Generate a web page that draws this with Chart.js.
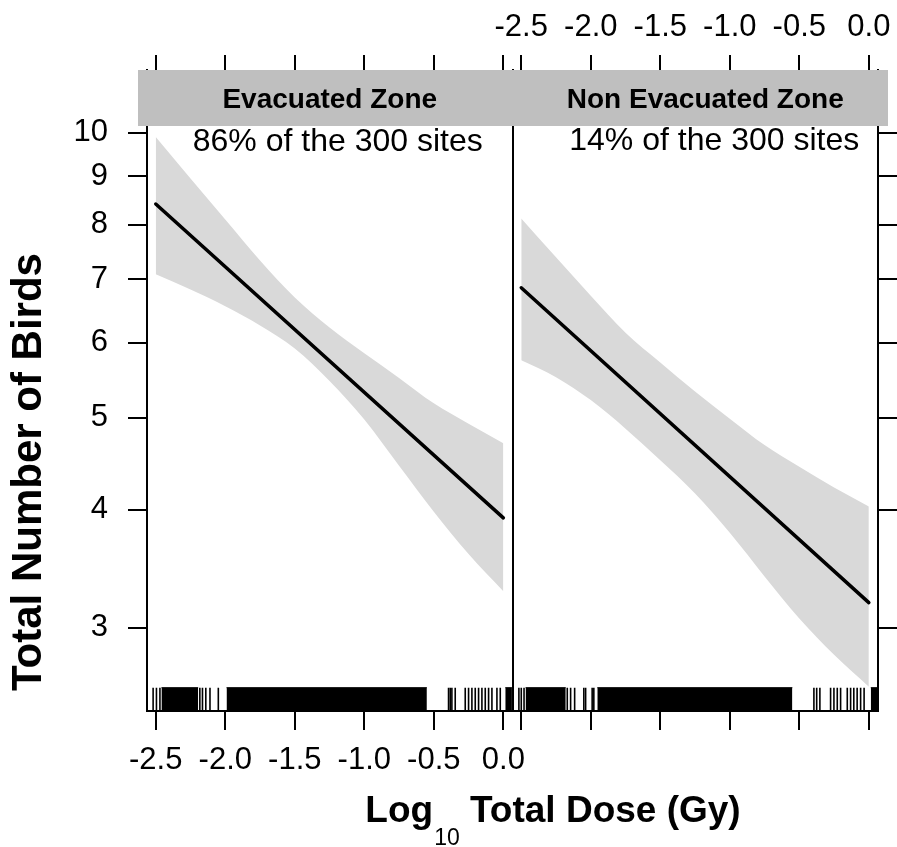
<!DOCTYPE html>
<html><head><meta charset="utf-8">
<script src="https://cdn.jsdelivr.net/npm/chart.js@4.4.1/dist/chart.umd.min.js"></script>
<style>html,body{margin:0;padding:0;background:#fff;}canvas{display:block;}</style>
</head><body>
<canvas id="c" width="897" height="847"></canvas>
<script>
// ---------- data ----------
const panels = ['Evacuated Zone', 'Non Evacuated Zone'];
const panelNotes = ['86% of the 300 sites', '14% of the 300 sites'];
const yTitle = 'Total Number of Birds';
const xTitleParts = ['Log', '10', 'Total Dose (Gy)'];
const xTicks = [-2.5, -2.0, -1.5, -1.0, -0.5, 0.0];
const xTickLabels = ['-2.5', '-2.0', '-1.5', '-1.0', '-0.5', '0.0'];
const yTicks = [3, 4, 5, 6, 7, 8, 9, 10];
const yTickLabels = ['3', '4', '5', '6', '7', '8', '9', '10'];

const doseGrid = [-2.5, -2.25, -2.0, -1.75, -1.5, -1.25, -1.0, -0.75, -0.5, -0.25, 0.0];
const evacFitX = [-2.5, 0.0];
const evacFit = [8.41, 3.92];
const evacUpper = [9.90, 8.95, 8.10, 7.33, 6.70, 6.23, 5.85, 5.51, 5.18, 4.93, 4.70];
const evacLower = [7.09, 6.83, 6.56, 6.26, 5.92, 5.47, 4.98, 4.45, 3.98, 3.59, 3.28];
const nonEvacFitX = [-2.5, 0.0];
const nonEvacFit = [6.86, 3.19];
const nonEvacUpper = [8.12, 7.39, 6.73, 6.15, 5.72, 5.33, 4.99, 4.68, 4.44, 4.22, 4.03];
const nonEvacLower = [5.75, 5.52, 5.22, 4.87, 4.51, 4.16, 3.78, 3.40, 3.07, 2.81, 2.60];

const evacRug = [-2.519, -2.495, -2.47, -2.183, -2.164, -2.14, -2.11, -2.05,
  -0.394, -0.382, -0.37, -0.346, -0.274, -0.25, -0.226, -0.202, -0.178, -0.154,
  -0.13, -0.106, -0.082, -0.046, -0.022];
const evacRugSpans = [[-2.459, -2.195], [-1.991, -0.550], [0.014, 0.062]];
const nonEvacRug = [-2.517, -2.5, -2.48, -2.169, -2.145, -2.116, -2.05, -2.037, -1.99, -1.978,
  -0.395, -0.375, -0.352, -0.275, -0.251, -0.227, -0.203, -0.155, -0.131, -0.108,
  -0.084, -0.059, -0.034];
const nonEvacRugSpans = [[-2.469, -2.180], [-1.953, -0.550], [0.014, 0.062]];

const xMin = -2.563, xMax = 0.066;
const yMin = 2.451, yMax = 11.65;
const rugTop = 2.594, rugMid = 2.521;

// ---------- chart ----------
const FAM = '"Liberation Sans", Arial, Helvetica, sans-serif';
const tickFont = {family: FAM, size: 31};

function pts(xs, ys) { return xs.map((x, i) => ({x, y: ys[i]})); }
function noPad(s) { s.paddingLeft = 0; s.paddingRight = 0; s.paddingTop = 0; s.paddingBottom = 0; }

function xAxis(pos, showLabels, tl, pad) {
  return {
    type: 'linear', axis: 'x', position: pos, stack: pos, stackWeight: 1,
    min: xMin, max: xMax, bounds: 'data',
    afterBuildTicks: s => { s.ticks = xTicks.map(v => ({value: v})); },
    afterFit: s => { s.height = pos === 'top' ? 70 : 136; noPad(s); },
    ticks: {autoSkip: false, maxRotation: 0, minRotation: 0, padding: pad, color: '#000', font: tickFont,
      callback: (v, i) => showLabels ? xTickLabels[i] : ''},
    grid: {display: true, drawOnChartArea: false, drawTicks: true, tickLength: tl, tickWidth: 2,
      tickColor: '#000', color: '#000', lineWidth: 2},
    border: {display: pos === 'bottom', color: '#000', width: 2}
  };
}
function yAxis(pos, showLabels, width) {
  return {
    type: 'logarithmic', axis: 'y', position: pos, min: yMin, max: yMax, bounds: 'data',
    afterBuildTicks: s => { s.ticks = yTicks.map(v => ({value: v})); },
    afterFit: s => { s.width = width; noPad(s); },
    ticks: {autoSkip: false, padding: 20, color: '#000', font: tickFont,
      callback: (v, i) => showLabels ? yTickLabels[i] : ''},
    grid: {display: true, drawOnChartArea: false, drawTicks: true, tickLength: 19, tickWidth: 2,
      tickColor: '#000', color: '#000', lineWidth: 2},
    border: {display: true, color: '#000', width: 2}
  };
}

const decor = {
  id: 'decor',
  afterDraw(chart) {
    const {ctx, chartArea: a, scales} = chart;
    const L = scales.xL, R = scales.xR;
    ctx.save();
    // strip
    ctx.fillStyle = '#bfbfbf';
    ctx.fillRect(a.left - 9, a.top, a.right - a.left + 19, 56);
    ctx.fillStyle = '#000';
    ctx.textAlign = 'center';
    ctx.textBaseline = 'alphabetic';
    ctx.font = 'bold 28px ' + FAM;
    ctx.fillText(panels[0], (L.left + L.right) / 2, a.top + 38);
    ctx.fillText(panels[1], (R.left + R.right) / 2 + 10, a.top + 38);
    // panel notes
    ctx.font = '32px ' + FAM;
    ctx.fillText(panelNotes[0], (L.left + L.right) / 2 + 8, a.top + 81);
    ctx.fillText(panelNotes[1], (R.left + R.right) / 2 + 19, a.top + 80);
    // y title
    ctx.save();
    ctx.translate(41, 472);
    ctx.rotate(-Math.PI / 2);
    ctx.font = 'bold 42px ' + FAM;
    ctx.fillText(yTitle, 0, 0);
    ctx.restore();
    // x title with subscript
    const big = 'bold 37px ' + FAM, small = '23px ' + FAM;
    ctx.font = big; const w0 = ctx.measureText(xTitleParts[0]).width;
    const wsp = ctx.measureText(' ').width;
    const w2 = ctx.measureText(xTitleParts[2]).width;
    ctx.font = small; const w1 = ctx.measureText(xTitleParts[1]).width;
    const total = w0 + 1 + w1 + wsp + w2;
    let x = 553 - total / 2;
    const base = a.bottom + 111;
    ctx.textAlign = 'left';
    ctx.font = big; ctx.fillText(xTitleParts[0], x, base); x += w0 + 1;
    ctx.font = small; ctx.fillText(xTitleParts[1], x, base + 23); x += w1 + wsp;
    ctx.font = big; ctx.fillText(xTitleParts[2], x, base);
    ctx.restore();
  }
};

const lineDs = (xs, ys, xid) => ({type: 'line', data: pts(xs, ys), xAxisID: xid, yAxisID: 'yL',
  borderColor: '#000', borderWidth: 3.5, pointRadius: 0, fill: false, borderCapStyle: 'round'});
const rugDs = (vals, xid) => ({type: 'line', showLine: false, data: vals.map(x => ({x, y: rugMid})),
  xAxisID: xid, yAxisID: 'yL', pointStyle: 'line', pointRotation: 90, pointRadius: 11.65,
  pointHoverRadius: 11.65, pointBorderWidth: 1.6, pointBorderColor: '#000', pointBackgroundColor: '#000'});
const spanDs = (sp, xid) => ({type: 'line', data: [{x: sp[0], y: rugTop}, {x: sp[1], y: rugTop}],
  xAxisID: xid, yAxisID: 'yL', borderColor: '#000', borderWidth: 1, pointRadius: 0,
  fill: 'start', backgroundColor: '#000'});
const bandLow = (ys, xid) => ({type: 'line', data: pts(doseGrid, ys), xAxisID: xid, yAxisID: 'yL',
  borderColor: 'rgba(0,0,0,0)', borderWidth: 1, pointRadius: 0, fill: false, cubicInterpolationMode: 'monotone'});
const bandUp = (ys, xid) => ({type: 'line', data: pts(doseGrid, ys), xAxisID: xid, yAxisID: 'yL',
  borderColor: 'rgba(0,0,0,0)', borderWidth: 1, pointRadius: 0, fill: '-1',
  backgroundColor: '#d9d9d9', cubicInterpolationMode: 'monotone'});

const datasets = [
  lineDs(evacFitX, evacFit, 'xL'),
  lineDs(nonEvacFitX, nonEvacFit, 'xR'),
  rugDs(evacRug, 'xL'),
  rugDs(nonEvacRug, 'xR'),
  ...evacRugSpans.map(s => spanDs(s, 'xL')),
  ...nonEvacRugSpans.map(s => spanDs(s, 'xR')),
  bandLow(evacLower, 'xL'), bandUp(evacUpper, 'xL'),
  bandLow(nonEvacLower, 'xR'), bandUp(nonEvacUpper, 'xR')
];

new Chart(document.getElementById('c'), {
  type: 'line',
  data: {datasets},
  options: {
    responsive: false, animation: false, devicePixelRatio: 1, events: [],
    layout: {padding: 0},
    plugins: {legend: {display: false}, tooltip: {enabled: false}, title: {display: false}},
    scales: {
      xL: xAxis('bottom', true, 19, 12),
      xR: xAxis('bottom', false, 19, 12),
      xRt: xAxis('top', true, 15, 9),
      xLt: xAxis('top', false, 15, 9),
      yL: yAxis('left', true, 147),
      yR: yAxis('right', false, 19),
      ySep: {type: 'linear', axis: 'y', position: {xL: xMax}, min: 0, max: 1,
        afterFit: s => noPad(s),
        ticks: {display: false}, grid: {display: false},
        border: {display: true, color: '#000', width: 2}}
    }
  },
  plugins: [decor]
});
</script>
</body></html>
